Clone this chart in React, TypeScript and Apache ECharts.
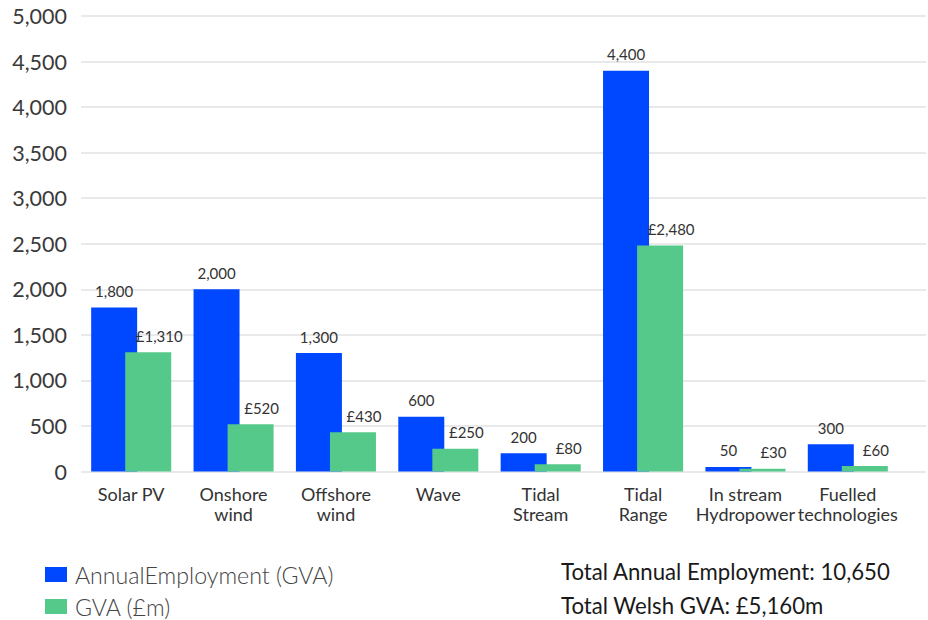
import React, { useEffect, useRef } from "react";
import * as echarts from "echarts";

const categories = [
  "Solar PV",
  "Onshore\nwind",
  "Offshore\nwind",
  "Wave",
  "Tidal\nStream",
  "Tidal\nRange",
  "In stream\nHydropower",
  "Fuelled\ntechnologies",
];
const employment = [1800, 2000, 1300, 600, 200, 4400, 50, 300];
const gva = [1310, 520, 430, 250, 80, 2480, 30, 60];
const seriesNames = ["AnnualEmployment (GVA)", "GVA (£m)"];
const totals = ["Total Annual Employment: 10,650", "Total Welsh GVA: £5,160m"];

const FONT = "Lato";
const fmt = (v: number) => v.toLocaleString("en-GB");

export default function App() {
  const ref = useRef<HTMLDivElement>(null);
  useEffect(() => {
    if (!ref.current) return;
    const chart = echarts.init(ref.current, undefined, { renderer: "svg" });
    const top = 16;
    const bottom = 148.5;
    const legendBase = {
      orient: "horizontal",
      left: 45,
      padding: 0,
      itemWidth: 22,
      itemHeight: 15,
      icon: "rect",
      textStyle: {
        color: "#444",
        fontSize: 23.2,
        lineHeight: 20,
        fontFamily: FONT,
        fontWeight: 300,
        padding: [0, 0, 0, 3],
      },
    };
    chart.setOption({
      animation: false,
      textStyle: { fontFamily: FONT },
      grid: [
        { left: 80, right: 29, top, bottom, containLabel: false },
        { left: 81, right: 2, top, bottom, containLabel: false },
      ],
      xAxis: [
        {
          type: "category",
          gridIndex: 0,
          data: categories,
          axisLine: { show: false },
          axisTick: { show: false },
          axisLabel: {
            color: "#333",
            fontSize: 18,
            lineHeight: 20,
            margin: 12,
            fontFamily: FONT,
            interval: 0,
          },
        },
        { type: "value", gridIndex: 1, min: 0, max: 1, show: false },
      ],
      yAxis: [
        {
          type: "value",
          gridIndex: 0,
          min: 0,
          max: 5000,
          interval: 500,
          axisLine: { show: false },
          axisTick: { show: false },
          splitLine: { show: false },
          axisLabel: {
            color: "#3a3a3a",
            fontSize: 21.5,
            margin: 13,
            fontFamily: FONT,
            formatter: (v: number) => fmt(v),
          },
        },
        {
          type: "value",
          gridIndex: 1,
          min: 0,
          max: 5000,
          interval: 500,
          axisLine: { show: false },
          axisTick: { show: false },
          axisLabel: { show: false },
          splitLine: { show: true, lineStyle: { color: "#e2e2e2", width: 1.5 } },
        },
      ],
      legend: [
        { ...legendBase, top: 563, data: [seriesNames[0]] },
        { ...legendBase, top: 595, data: [seriesNames[1]] },
      ],
      series: [
        {
          name: seriesNames[0],
          type: "bar",
          xAxisIndex: 0,
          yAxisIndex: 0,
          data: employment,
          barWidth: 46,
          barGap: "-26%",
          itemStyle: { color: "#0048FF" },
          label: {
            show: true,
            position: "top",
            distance: 9,
            color: "#333",
            fontSize: 15,
            fontFamily: FONT,
            formatter: (p: any) => fmt(p.value),
          },
        },
        {
          name: seriesNames[1],
          type: "bar",
          xAxisIndex: 0,
          yAxisIndex: 0,
          data: gva,
          barWidth: 46,
          barGap: "-26%",
          itemStyle: { color: "#55C989" },
          label: {
            show: true,
            position: "top",
            distance: 9,
            offset: [11, 0],
            color: "#333",
            fontSize: 15,
            fontFamily: FONT,
            formatter: (p: any) => "£" + fmt(p.value),
          },
        },
      ],
      graphic: [
        {
          type: "text",
          left: 561,
          top: 560,
          style: { text: totals[0], fontSize: 22.2, fontFamily: FONT, fontWeight: "normal", fill: "#1a1a1a" },
        },
        {
          type: "text",
          left: 561,
          top: 594,
          style: { text: totals[1], fontSize: 22.2, fontFamily: FONT, fontWeight: "normal", fill: "#1a1a1a" },
        },
      ],
    });
    return () => chart.dispose();
  }, []);
  return <div ref={ref} style={{ width: 928, height: 620, position: "absolute", left: 0, top: 0 }} />;
}
